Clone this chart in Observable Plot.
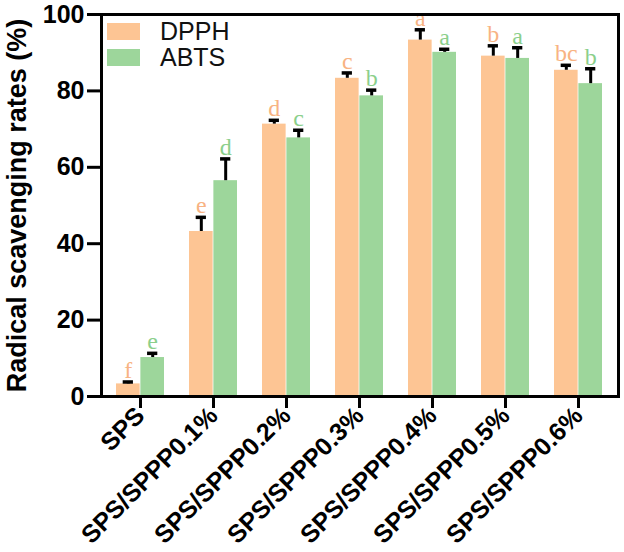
<!DOCTYPE html>
<html>
<head>
<meta charset="utf-8">
<script src="https://cdn.jsdelivr.net/npm/d3@7"></script>
<script src="https://cdn.jsdelivr.net/npm/@observablehq/plot@0.6"></script>
<style>
  html, body { margin: 0; padding: 0; background: #fff; }
  #wrap { position: relative; width: 624px; height: 552px; }
  #legend { position: absolute; left: 107px; top: 18px; font-family: "Liberation Sans", Arial, sans-serif; font-size: 25px; color: #111; }
  .item { display: flex; align-items: center; height: 26px; margin-bottom: 0px; }
  .sw { width: 33px; height: 17px; margin-right: 20px; }
  .item span { line-height: 20px; }
</style>
</head>
<body>
<div id="wrap">
  <div id="legend"></div>
</div>
<script>
const groups = ["SPS", "SPS/SPPP0.1%", "SPS/SPPP0.2%", "SPS/SPPP0.3%", "SPS/SPPP0.4%", "SPS/SPPP0.5%", "SPS/SPPP0.6%"];
const seriesNames = ["DPPH", "ABTS"];
const dpph = [3.3, 43.2, 71.3, 83.3, 93.3, 89.1, 85.4];
const dpphErr = [0.5, 3.7, 1.0, 1.4, 2.7, 2.7, 1.3];
const abts = [10.2, 56.5, 67.7, 78.7, 90.1, 88.5, 81.9];
const abtsErr = [1.1, 5.7, 2.0, 1.5, 0.8, 2.8, 3.9];
const dpphLetters = ["f", "e", "d", "c", "a", "b", "bc"];
const abtsLetters = ["e", "d", "c", "b", "a", "a", "b"];
const yTicks = [0, 20, 40, 60, 80, 100];

const colors = {DPPH: "#FDC594", ABTS: "#9DD69B"};
const letterColors = {DPPH: "#F8B383", ABTS: "#8BCF8B"};

const rows = [];
groups.forEach((g, i) => {
  rows.push({group: g, series: "DPPH", value: dpph[i], err: dpphErr[i], letter: dpphLetters[i]});
  rows.push({group: g, series: "ABTS", value: abts[i], err: abtsErr[i], letter: abtsLetters[i]});
});

const W = 624, H = 552, ml = 101, mr = 6, mt = 14, mb = 156;
const pIn = 0.34, pOut = 0.17;
const step = (W - ml - mr) / (groups.length - pIn + 2 * pOut);
const bw = step * (1 - pIn);
const half = bw / 2, q = bw / 4, capHalf = 5.5;

const font = "'Liberation Sans', Arial, sans-serif";

function seriesMarks(name, sign) {
  const d = rows.filter(r => r.series === name);
  return [
    Plot.barY(d, {x: "group", y: "value", fill: colors[name],
      insetLeft: sign < 0 ? 0 : half, insetRight: sign < 0 ? half : 0}),
    Plot.ruleX(d, {x: "group", y1: "value", y2: d => d.value + d.err, dx: sign * q, stroke: "#000", strokeWidth: 3}),
    Plot.tickY(d, {x: "group", y: d => d.value + d.err, stroke: "#000", strokeWidth: 3.5,
      insetLeft: (sign < 0 ? q : 3 * q) - capHalf, insetRight: (sign < 0 ? 3 * q : q) - capHalf}),
    Plot.text(d, {x: "group", y: d => d.value + d.err, text: "letter", dx: sign * q, dy: -4,
      lineAnchor: "bottom", fill: letterColors[name], fontSize: 24, fontFamily: "'Liberation Serif', 'Times New Roman', serif"})
  ];
}

const chart = Plot.plot({
  width: W, height: H,
  marginLeft: ml, marginRight: mr, marginTop: mt, marginBottom: mb,
  style: {fontFamily: font, background: "#fff", color: "#000"},
  x: {domain: groups, paddingInner: pIn, paddingOuter: pOut, label: null},
  y: {domain: [0, 100], label: null},
  marks: [
    ...seriesMarks("DPPH", -1),
    ...seriesMarks("ABTS", 1),
    Plot.frame({stroke: "#000", strokeWidth: 3}),
    Plot.axisY({ticks: yTicks, tickSize: 14, tickPadding: 3, strokeWidth: 3, fontSize: 25, fontWeight: "bold",
      label: null}),
    Plot.axisY({ticks: [], tickSize: 0, fontSize: 27, fontWeight: "bold",
      label: "Radical scavenging rates (%)", labelAnchor: "center", labelOffset: 95, labelArrow: "none"}),
    Plot.axisX({tickSize: 12, tickPadding: 3, strokeWidth: 3, fontSize: 25, fontWeight: "bold", tickRotate: -45, label: null})
  ]
});
document.getElementById("wrap").prepend(chart);

const legend = document.getElementById("legend");
seriesNames.forEach(n => {
  const it = document.createElement("div");
  it.className = "item";
  const sw = document.createElement("div");
  sw.className = "sw";
  sw.style.background = colors[n];
  const tx = document.createElement("span");
  tx.textContent = n;
  it.append(sw, tx);
  legend.append(it);
});
</script>
</body>
</html>
